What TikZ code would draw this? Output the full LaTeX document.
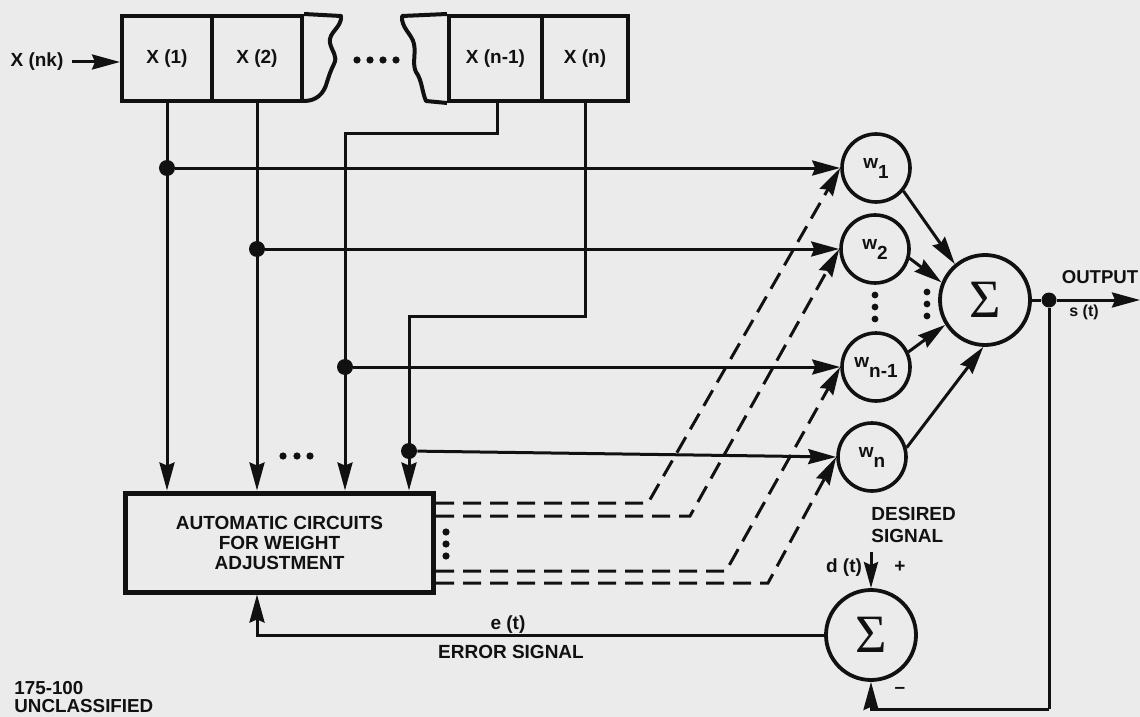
\documentclass[tikz,border=0pt]{standalone}
\usepackage{fontspec}
\setmainfont{Liberation Sans}
\newfontfamily\sigmafont{Liberation Serif}
\usetikzlibrary{arrows.meta,calc}
\definecolor{paper}{HTML}{EBEBEB}
\definecolor{ink}{HTML}{111111}
\tikzset{
  cell/.style={draw=ink,line width=2pt,minimum height=42.5pt,inner sep=0pt,font=\bfseries\fontsize{9.5}{10}\selectfont,text=ink},
  wire/.style={draw=ink,line width=1.5pt},
  tipped/.style={wire,-{Stealth[length=14pt,width=7.5pt,inset=1.5pt]}},
  smalltip/.style={wire,-{Stealth[length=13pt,width=7pt,inset=1.5pt]}},
  dashwire/.style={tipped,dash pattern=on 9pt off 4.5pt},
  junction/.style={circle,fill=ink,inner sep=0pt,minimum size=8pt},
  weight/.style={circle,draw=ink,line width=1.8pt,minimum size=34pt,inner sep=0pt,text=ink,font=\bfseries\fontsize{9.5}{10}\selectfont},
  summer/.style={circle,draw=ink,line width=1.9pt,minimum size=45pt,inner sep=0pt,text=ink},
  label/.style={inner sep=0pt,text=ink,font=\bfseries\fontsize{9.5}{11}\selectfont,align=center},
  tinydot/.style={fill=ink}
}
\newcommand{\wsub}[2]{\raisebox{1.5pt}{#1}\raisebox{-3.5pt}{#2}}
\newcommand{\bigsigma}{{\sigmafont\fontsize{27}{27}\selectfont Σ}}
\begin{document}
\begin{tikzpicture}[x=0.5pt,y=-0.5pt]
\useasboundingbox (0,0) rectangle (1140,717);
\clip (0,0) rectangle (1140,717);
\fill[paper] (0,0) rectangle (1140,717);

% register
\node[cell,minimum width=45pt] (x1) at (167,58.5) {X (1)};
\node[cell,minimum width=45pt] (x2) at (257,58.5) {X (2)};
\node[cell,minimum width=46.5pt] (xm) at (495.5,58.5) {X (n-1)};
\node[cell,minimum width=43pt] (xn) at (585,58.5) {X (n)};
\draw[ink,line width=2pt,line join=round] (x2.north east) -- (341,16)
  .. controls (342,28) and (328,32) .. (330,43)
  .. controls (332,52) and (338,56) .. (334,64)
  .. controls (330,72) and (329,76) .. (327,82)
  .. controls (324,94) and (316,101) .. (304,101) -- (x2.south east);
\draw[ink,line width=2pt,line join=round] (xm.north west) -- (402,16)
  .. controls (401,28) and (412,34) .. (414,44)
  .. controls (416,54) and (412,64) .. (416,72)
  .. controls (422,80) and (422,92) .. (426,101) -- (xm.south west);
\foreach \px in {357,370,383,396} \fill[tinydot] (\px,60) circle (3.6);

% input
\node[label] (xin) at (37,62) {X (nk)};
\coordinate (xinr) at (72,62);
\draw[tipped] (xinr) -- (xinr -| x1.west);

% adjustment box
\node[draw=ink,line width=2.5pt,minimum width=154pt,minimum height=49.5pt,inner sep=0pt,
  label,font=\bfseries\fontsize{9.5}{10}\selectfont] (box) at (279.5,542.5)
  {AUTOMATIC CIRCUITS\\FOR WEIGHT\\ADJUSTMENT};

% weights
\node[weight] (w1) at (876,168) {\wsub{w}{1}};
\node[weight] (w2) at (875,249) {\wsub{w}{2}};
\node[weight] (wm) at (876,367) {\wsub{w}{n-1}};
\node[weight] (wn) at (872,457) {\wsub{w}{n}};
\node[summer] (sum) at (985,300) {\bigsigma};
\node[summer] (dif) at (871,635) {\bigsigma};

% junctions
\node[junction] (j1) at (x1.south |- w1.west) {};
\node[junction] (j2) at (x2.south |- w2.west) {};
\coordinate (m1) at (497,134);
\coordinate (m2) at (345,134);
\coordinate (n1) at (585,316);
\coordinate (n2) at (409,316);
\node[junction] (j3) at (345,367) {};
\node[junction] (j4) at (409,451) {};
\coordinate (xmb) at (497,101);

% taps into box
\draw[tipped] (x1.south) -- (x1.south |- box.north);
\draw[tipped] (x2.south) -- (x2.south |- box.north);
\draw[tipped] (xmb) -- (m1) -- (m2) -- (m2 |- box.north);
\draw[tipped] (xn.south) -- (n1) -- (n2) -- (n2 |- box.north);
\foreach \px in {283,297,310} \fill[tinydot] (\px,456) circle (3.6);

% signals to weights
\draw[tipped] (j1) -- (w1.west);
\draw[tipped] (j2) -- (w2.west);
\draw[tipped] (j3) -- (wm.west);
\draw[tipped] (j4) -- (wn.west);

% control lines
\coordinate (c1) at (648,503);
\coordinate (c2) at (690,516);
\coordinate (c3) at (726,571);
\coordinate (c4) at (768,583);
\draw[dashwire] (box.east |- c1) -- (c1) -- (w1.west);
\draw[dashwire] (box.east |- c2) -- (c2) -- (w2.west);
\draw[dashwire] (box.east |- c3) -- (c3) -- (wm.west);
\draw[dashwire] (box.east |- c4) -- (c4) -- (wn.west);
\foreach \py in {532,544,556} \fill[tinydot] (446,\py) circle (3.6);

% weights to summer
\draw[tipped] (w1.-40) -- (sum.130);
\draw[tipped] (w2.-15) -- (sum.158);
\draw[tipped] (wm.25) -- (sum.212);
\draw[tipped] (wn.15) -- (sum.-92);
\foreach \py in {295,307,319} \fill[tinydot] (875,\py) circle (3.4);
\foreach \py in {292,304,316} \fill[tinydot] (927,\py) circle (3.4);

% output
\coordinate (out) at (1140,300);
\node[junction,minimum size=7.5pt] (j5) at (1049,300) {};
\draw[wire] (sum.east) -- (j5);
\draw[tipped] (j5) -- (out);
\node[label,font=\fontsize{9.3}{10}\selectfont\bfseries] (outl) at (1100,277) {OUTPUT};
\node[label,font=\bfseries\fontsize{8}{9}\selectfont] (st) at (1084,312) {s (t)};

% feedback
\coordinate (fb1) at (1049,709);
\draw[wire] (j5) -- (fb1);
\draw[tipped] (fb1) -- (fb1 -| dif.south) -- (dif.south);
\coordinate (fb2) at (257,635);
\draw[tipped] (dif.west) -- (fb2) -- (fb2 |- box.south);

% desired
\coordinate (d0) at (871,552);
\draw[smalltip] (d0) -- (dif.north);
\node[label,align=left,anchor=west] (des) at (871,525) {DESIRED\\SIGNAL};
\node[label] (dt) at (844,568) {d (t)};
\node[label] (plus) at (900,567) {+};
\node[label] (minus) at (900,690) {--};
\node[label] (et) at (508,625) {e (t)};
\node[label] (err) at (511,652) {ERROR SIGNAL};
\node[label,anchor=north west,align=left,font=\bfseries\fontsize{9.4}{9}\selectfont] (tag) at (14,681) {175-100\\UNCLASSIFIED};
\end{tikzpicture}
\end{document}
